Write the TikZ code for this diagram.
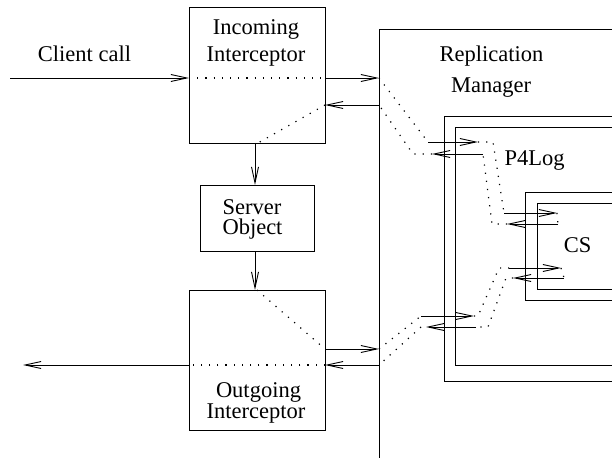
\documentclass[tikz,border=0pt]{standalone}
\usepackage{fontspec}
\setmainfont{Liberation Serif}
\usetikzlibrary{arrows.meta}
\begin{document}
\begin{tikzpicture}[x=1pt,y=-1pt,
  box/.style={draw, line width=0.9pt, inner sep=0pt},
  lbl/.style={font=\fontsize{22.5}{27}\selectfont, inner sep=0pt, anchor=base},
  conn/.style={line width=0.9pt, -{Straight Barb[length=16pt,width=7pt]}},
  dots/.style={line width=1.2pt, dash pattern=on 1.2pt off 7pt}]
\useasboundingbox (0,0) rectangle (612,457);
\fill[white] (0,0) rectangle (612,457);
\clip (0,0) rectangle (612,457);

% boxes
\node[box, minimum width=136pt, minimum height=136pt] (inc) at (257,75) {};
\node[box, minimum width=114pt, minimum height=66pt] (srv) at (257,218) {};
\node[box, minimum width=136pt, minimum height=140pt] (out) at (257,360) {};
\node[box, minimum width=341pt, minimum height=491pt] (rm) at (549.5,274.5) {};
\node[box, minimum width=276pt, minimum height=265pt] (p4o) at (582,248.5) {};
\node[box, minimum width=265pt, minimum height=238pt] (p4i) at (587.5,246) {};
\node[box, minimum width=195pt, minimum height=108pt] (cso) at (622.5,246) {};
\node[box, minimum width=183pt, minimum height=86pt] (csi) at (628.5,246) {};

% labels
\node[lbl] (tclient) at (84.5,62) {Client call};
\node[lbl] (tinc1) at (256,35) {Incoming};
\node[lbl] (tinc2) at (256,62) {Interceptor};
\node[lbl] (tsrv1) at (252,214) {Server};
\node[lbl] (tsrv2) at (252.5,234.5) {Object};
\node[lbl] (tout1) at (258.5,397) {Outgoing};
\node[lbl] (tout2) at (256,418) {Interceptor};
\node[lbl] (trm1) at (491.5,62) {Replication};
\node[lbl] (trm2) at (491,93) {Manager};
\node[lbl] (tp4) at (534.5,165) {P4Log};
\node[lbl] (tcs) at (577.5,252) {CS};

% coordinates
\coordinate (c0) at (10,78);
\coordinate (a1) at (189,78);
\coordinate (a2) at (325,78);
\coordinate (a3) at (379,78);
\coordinate (b1) at (379,105);
\coordinate (b2) at (325,105);
\coordinate (b3) at (258,143);
\coordinate (s1) at (255,143);
\coordinate (s2) at (255,185);
\coordinate (s3) at (255,251);
\coordinate (s4) at (255,290);
\coordinate (d1) at (257,290);
\coordinate (d2) at (325,349);
\coordinate (d3) at (379,349);
\coordinate (e1) at (379,365);
\coordinate (e2) at (325,365);
\coordinate (e3) at (189,365);
\coordinate (e4) at (23,365);
% upper forward path
\coordinate (u1) at (428,142);
\coordinate (u2) at (478,142);
\coordinate (u3) at (493,142);
\coordinate (u4) at (504,213);
\coordinate (u5) at (557,213);
\coordinate (u6) at (558,224);
% upper return path
\coordinate (v1) at (507,224);
\coordinate (v2) at (492,224);
\coordinate (v3) at (483,154);
\coordinate (v4) at (432,154);
\coordinate (v5) at (413,154);
% lower forward path
\coordinate (l1) at (421,316);
\coordinate (l2) at (474,316);
\coordinate (l3) at (478,316);
\coordinate (l4) at (499,268);
\coordinate (l5) at (509,268);
\coordinate (l6) at (561,268);
\coordinate (l7) at (564,278);
% lower return path
\coordinate (m1) at (513,278);
\coordinate (m2) at (506,278);
\coordinate (m3) at (488,327);
\coordinate (m4) at (476,327);
\coordinate (m5) at (426,327);
\coordinate (m6) at (421,327);

% connectors: left side
\draw[conn] (c0) -- (a1);
\draw[dots] (a1) -- (a2);
\draw[conn] (a2) -- (a3);
\draw[conn] (b1) -- (b2);
\draw[dots] (b2) -- (b3);
\draw[conn] (s1) -- (s2);
\draw[conn] (s3) -- (s4);
\draw[dots] (d1) -- (d2);
\draw[conn] (d2) -- (d3);
\draw[conn] (e1) -- (e2);
\draw[dots] (e2) -- (e3);
\draw[conn] (e3) -- (e4);

% upper paths
\draw[dots] (a3) -- (u1);
\draw[conn] (u1) -- (u2);
\draw[dots] (u2) -- (u3) -- (u4);
\draw[conn] (u4) -- (u5);
\draw[dots] (u5) -- (u6);
\draw[conn] (u6) -- (v1);
\draw[dots] (v1) -- (v2) -- (v3);
\draw[conn] (v3) -- (v4);
\draw[dots] (v4) -- (v5) -- (b1);

% lower paths
\draw[dots] (d3) -- (l1);
\draw[conn] (l1) -- (l2);
\draw[dots] (l2) -- (l3) -- (l4) -- (l5);
\draw[conn] (l5) -- (l6);
\draw[dots] (l6) -- (l7);
\draw[conn] (l7) -- (m1);
\draw[dots] (m1) -- (m2) -- (m3) -- (m4);
\draw[conn] (m4) -- (m5);
\draw[dots] (m6) -- (e1);
\end{tikzpicture}
\end{document}
